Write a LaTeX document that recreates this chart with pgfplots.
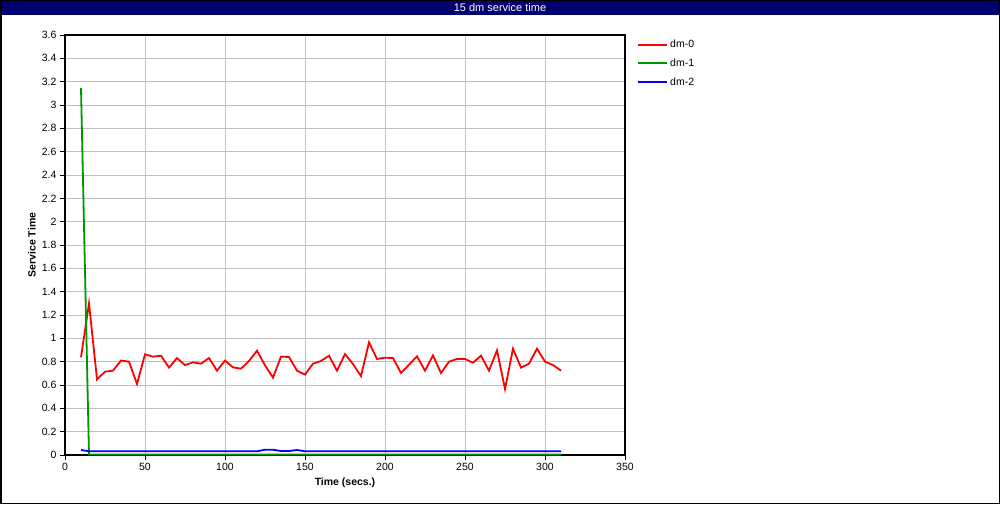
\documentclass[border=0pt]{standalone}
\usepackage{fontspec}
\setmainfont{Liberation Sans}
\usepackage{pgfplots}
\usepackage{pgfplotstable}
\pgfplotsset{compat=1.18}

\definecolor{barnavy}{RGB}{0,0,110}
\definecolor{dmred}{RGB}{255,0,0}
\definecolor{dmgreen}{RGB}{0,150,0}
\definecolor{dmblue}{RGB}{0,0,255}
\definecolor{gridgray}{RGB}{192,192,192}

% service time per dm, sampled every 5 s
\pgfplotstableread{
t    dm0
10   0.837
15   1.300
20   0.649
25   0.714
30   0.723
35   0.810
40   0.800
45   0.609
50   0.863
55   0.843
60   0.851
65   0.749
70   0.831
75   0.771
80   0.794
85   0.783
90   0.831
95   0.723
100  0.810
105  0.751
110  0.740
115  0.806
120  0.894
125  0.769
130  0.663
135  0.843
140  0.840
145  0.723
150  0.689
155  0.783
160  0.806
165  0.851
170  0.723
175  0.865
180  0.780
185  0.677
190  0.966
195  0.823
200  0.834
205  0.831
210  0.703
215  0.774
220  0.846
225  0.723
230  0.854
235  0.703
240  0.800
245  0.823
250  0.823
255  0.791
260  0.851
265  0.723
270  0.897
275  0.566
280  0.911
285  0.749
290  0.783
295  0.911
300  0.800
305  0.771
310  0.723
}\dmzero

\pgfplotstableread{
t    dm1
10   3.146
15   0.004
310  0.004
}\dmone

\pgfplotstableread{
t    dm2
10   0.043
15   0.032
120  0.032
125  0.045
130  0.045
135  0.034
140  0.034
145  0.043
150  0.032
310  0.032
}\dmtwo

\begin{document}
\begin{tikzpicture}
% outer frame and title bar
\fill[white] (0pt,0pt) rectangle (1000pt,504pt);
\fill[barnavy] (0pt,489pt) rectangle (1000pt,504pt);
\draw[black, line width=1.5pt] (0.75pt,0.75pt) rectangle (999.25pt,503.25pt);
\node[text=white, font=\fontsize{11}{12}\selectfont] at (500pt,496.5pt) {15 dm service time};

\begin{axis}[
  at={(65pt,49pt)}, anchor=south west,
  scale only axis, width=560pt, height=420pt,
  xmin=0, xmax=350, ymin=0, ymax=3.6,
  xtick={0,50,...,350},
  ytick={0,0.2,...,3.6},
  /pgf/number format/assume math mode=true,
  yticklabel style={/pgf/number format/fixed, /pgf/number format/precision=1},
  tick label style={font=\fontsize{10.5}{12}\selectfont},
  xtick pos=bottom, ytick pos=left,
  tick align=outside, major tick length=5pt,
  tick style={black, line width=1pt},
  axis line style={black, line width=1.2pt},
  grid=major, grid style={gridgray, line width=1pt},
  xlabel={\textbf{Time (secs.)}},
  ylabel={\textbf{Service Time}},
  label style={font=\fontsize{10.5}{12}\selectfont},
  xlabel style={at={(axis description cs:0.5,-0.067)}, anchor=center},
  ylabel style={at={(axis description cs:-0.059,0.5)}, anchor=center},
  clip=false,
  legend style={at={(1,1)}, anchor=north west, xshift=12pt, yshift=-3pt,
    draw=none, fill=none, font=\fontsize{10.5}{12}\selectfont,
    row sep=5.5pt, inner sep=0pt},
  legend cell align=left,
  legend image code/.code={\draw[#1, line width=2pt] (0pt,0pt) -- (29pt,0pt);},
]
\addplot[dmred, line width=1.8pt] table[x=t, y=dm0] {\dmzero};
\addlegendentry{dm-0}
\addplot[dmgreen, line width=1.8pt] table[x=t, y=dm1] {\dmone};
\addlegendentry{dm-1}
\addplot[dmblue, line width=1.8pt] table[x=t, y=dm2] {\dmtwo};
\addlegendentry{dm-2}
\end{axis}
\end{tikzpicture}
\end{document}
